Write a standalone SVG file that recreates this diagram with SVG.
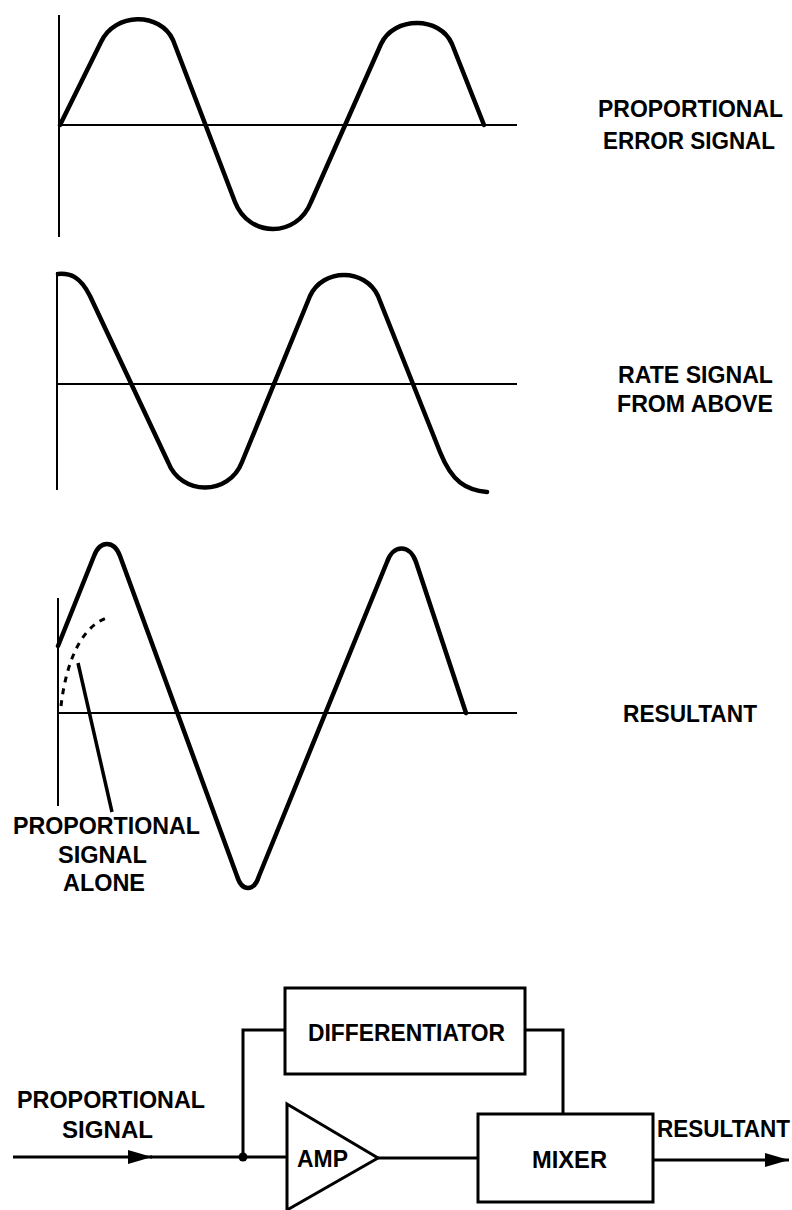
<svg xmlns="http://www.w3.org/2000/svg" width="792" height="1210" viewBox="0 0 792 1210">
<style>
.axis{stroke:#000;stroke-width:2;fill:none}
.wave{stroke:#000;stroke-width:4.5;fill:none;stroke-linejoin:round;stroke-linecap:round}
.ln{stroke:#000;stroke-width:3;fill:none}
.box{stroke:#000;stroke-width:3;fill:#fff}
.t{font-family:"Liberation Sans",Arial,sans-serif;font-weight:bold;font-size:23px;fill:#000}
</style>
<defs>
<marker id="arr" markerUnits="userSpaceOnUse" markerWidth="26" markerHeight="16" refX="24" refY="8" orient="auto">
<path d="M0,1 L24,8 L0,15 z" fill="#000"/>
</marker>
</defs>
<rect width="792" height="1210" fill="#fff"/>

<g id="panel-error">
<path class="axis" d="M59,15 V237 M59,125 H517"/>
<path class="wave" d="M60,125 L101,42 C115,12 160,12 173,40 L235,202 C249,238 297,238 311,202 L381,44 C394,16 440,16 452,44 L484,125"/>
<text class="t" x="598" y="117" textLength="185" lengthAdjust="spacingAndGlyphs">PROPORTIONAL</text>
<text class="t" x="603" y="149" textLength="172" lengthAdjust="spacingAndGlyphs">ERROR SIGNAL</text>
</g>

<g id="panel-rate">
<path class="axis" d="M57,272 V490 M57,384 H517"/>
<path class="wave" d="M58,274 C70,273 80,276 90,296 L168,462 C181,496 229,496 242,462 L310,296 C323,268 365,268 378,296 L440,452 C452,482 466,490 487,492"/>
<text class="t" x="618" y="383" textLength="155" lengthAdjust="spacingAndGlyphs">RATE SIGNAL</text>
<text class="t" x="617" y="412" textLength="156" lengthAdjust="spacingAndGlyphs">FROM ABOVE</text>
</g>

<g id="panel-resultant">
<path class="axis" d="M58,598 V806 M58,713 H517"/>
<path class="wave" d="M58,646 L94,556 C100,540 114,540 120,556 L237,876 C242,892 254,892 259,876 L387,562 C393,544 410,544 416,562 L466,713"/>
<path d="M61,706 C64,680 74,628 109,617" stroke="#000" stroke-width="3" fill="none" stroke-dasharray="6,6"/>
<path d="M78,663 L112,812" stroke="#000" stroke-width="3.5" fill="none"/>
<text class="t" x="623" y="722" textLength="134" lengthAdjust="spacingAndGlyphs">RESULTANT</text>
<text class="t" x="13" y="834" textLength="187" lengthAdjust="spacingAndGlyphs">PROPORTIONAL</text>
<text class="t" x="58" y="863" textLength="89" lengthAdjust="spacingAndGlyphs">SIGNAL</text>
<text class="t" x="63" y="891" textLength="82" lengthAdjust="spacingAndGlyphs">ALONE</text>
</g>

<g id="connectors">
<path class="ln" d="M13,1157 H152" marker-end="url(#arr)"/>
<path class="ln" d="M150,1157 H287"/>
<path class="ln" d="M243,1157 V1030 H285"/>
<path class="ln" d="M525,1030 H563 V1114"/>
<path class="ln" d="M378,1158 H478"/>
<path class="ln" d="M653,1160 H789" marker-end="url(#arr)"/>
<circle cx="243" cy="1157" r="4.5" fill="#000"/>
</g>

<g id="differentiator">
<rect class="box" x="285" y="988" width="240" height="86"/>
<text class="t" x="308" y="1041" textLength="197" lengthAdjust="spacingAndGlyphs">DIFFERENTIATOR</text>
</g>

<g id="amp">
<path class="box" d="M287,1104 L378,1158 L287,1210 Z"/>
<text class="t" x="297" y="1167" textLength="51" lengthAdjust="spacingAndGlyphs">AMP</text>
</g>

<g id="mixer">
<rect class="box" x="478" y="1114" width="175" height="88"/>
<text class="t" x="532" y="1168" textLength="75" lengthAdjust="spacingAndGlyphs">MIXER</text>
</g>

<g id="labels">
<text class="t" x="17" y="1108" textLength="188" lengthAdjust="spacingAndGlyphs">PROPORTIONAL</text>
<text class="t" x="62" y="1138" textLength="91" lengthAdjust="spacingAndGlyphs">SIGNAL</text>
<text class="t" x="657" y="1137" textLength="133" lengthAdjust="spacingAndGlyphs">RESULTANT</text>
</g>
</svg>
